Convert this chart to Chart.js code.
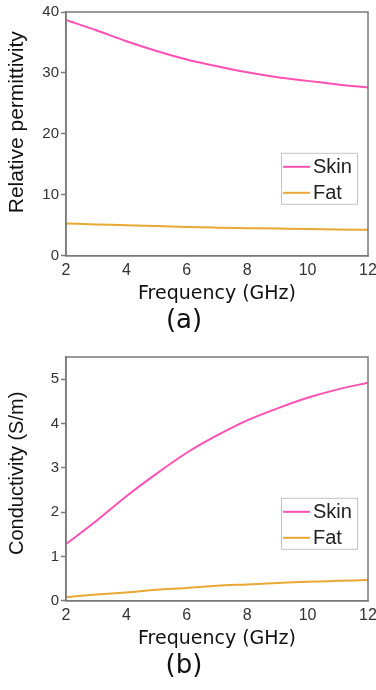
<!DOCTYPE html>
<html>
<head>
<meta charset="utf-8">
<script src="https://cdn.jsdelivr.net/npm/chart.js@4.4.1/dist/chart.umd.min.js"></script>
<style>
    body { margin: 0; background: #fff; }
    canvas { display: block; }
</style>
</head>
<body>
<canvas id="chartA" width="376" height="345"></canvas>
<canvas id="chartB" width="376" height="345"></canvas>
<script>
'use strict'

const freqs = [2, 3, 4, 5, 6, 7, 8, 9, 10, 11, 12]
const xTicks = [2, 4, 6, 8, 10, 12]

const skinPerm = [38.7, 37.0, 35.2, 33.6, 32.2, 31.1, 30.1, 29.3, 28.7, 28.1, 27.6]
const fatPerm = [5.3, 5.15, 5.03, 4.87, 4.72, 4.62, 4.54, 4.46, 4.38, 4.32, 4.27]
const permTicks = [0, 10, 20, 30, 40]

const skinCond = [1.28, 1.8, 2.36, 2.87, 3.34, 3.73, 4.07, 4.34, 4.58, 4.77, 4.92]
const fatCond = [0.08, 0.14, 0.19, 0.25, 0.29, 0.34, 0.37, 0.4, 0.43, 0.45, 0.47]
const condTicks = [0, 1, 2, 3, 4, 5]

const SKIN_COLOR = '#ff50b4'
const FAT_COLOR = '#eaa835'
const AXIS_COLOR = '#7a7a7a'

// frame round the plot area + legend box inside it
const framePlugin = {
    id: 'frame',
    afterDatasetsDraw(chart) {
        const { ctx, chartArea } = chart
        ctx.save()
        ctx.strokeStyle = AXIS_COLOR
        ctx.lineWidth = 1.5
        ctx.strokeRect(chartArea.left, chartArea.top, chartArea.right - chartArea.left, chartArea.bottom - chartArea.top)

        const boxW = 76
        const boxH = 51
        const bx = chartArea.right - 11 - boxW
        const by = chartArea.bottom - 52 - boxH
        ctx.fillStyle = '#fff'
        ctx.fillRect(bx, by, boxW, boxH)
        ctx.strokeStyle = '#c4c4c4'
        ctx.lineWidth = 1
        ctx.strokeRect(bx + 0.5, by + 0.5, boxW, boxH)

        ctx.font = '20px "Liberation Sans", Arial, sans-serif'
        ctx.textBaseline = 'middle'
        chart.data.datasets.forEach((ds, i) => {
            const y = by + 14 + i * 26
            ctx.strokeStyle = ds.borderColor
            ctx.lineWidth = 2
            ctx.beginPath()
            ctx.moveTo(bx + 2, y)
            ctx.lineTo(bx + 29, y)
            ctx.stroke()
            ctx.fillStyle = '#222'
            ctx.fillText(ds.label, bx + 32, y + 1)
        })
        ctx.restore()
    }
}

function makeChart(id, skin, fat, yTicks, yMax, yTitle, yTitleSize, caption) {
    const ctx = document.getElementById(id)
    return new Chart(ctx, {
        type: 'line',
        data: {
            datasets: [{
                label: 'Skin',
                data: freqs.map((f, i) => ({ x: f, y: skin[i] })),
                borderColor: SKIN_COLOR,
                borderWidth: 2,
                pointRadius: 0,
                cubicInterpolationMode: 'monotone'
            }, {
                label: 'Fat',
                data: freqs.map((f, i) => ({ x: f, y: fat[i] })),
                borderColor: FAT_COLOR,
                borderWidth: 2,
                pointRadius: 0,
                cubicInterpolationMode: 'monotone'
            }]
        },
        options: {
            responsive: false,
            animation: false,
            layout: { padding: { top: 12, right: 8, left: 0, bottom: 0 } },
            plugins: {
                legend: { display: false },
                tooltip: { enabled: false },
                title: {
                    display: true,
                    position: 'bottom',
                    text: caption,
                    color: '#111',
                    font: { family: '"DejaVu Sans", sans-serif', size: 26, weight: 'normal' },
                    padding: { top: 0, bottom: 8 }
                }
            },
            scales: {
                x: {
                    type: 'linear',
                    min: 2,
                    max: 12,
                    afterBuildTicks: scale => { scale.ticks = xTicks.map(v => ({ value: v })) },
                    afterFit: scale => { scale.height = 50 },
                    grid: { display: false },
                    border: { color: AXIS_COLOR, width: 1.5 },
                    ticks: {
                        color: '#333',
                        padding: -3,
                        maxRotation: 0,
                        font: { family: '"Liberation Sans", Arial, sans-serif', size: 16 }
                    },
                    title: {
                        display: true,
                        text: 'Frequency (GHz)',
                        color: '#111',
                        font: { family: '"DejaVu Sans", sans-serif', size: 19 },
                        padding: 0
                    }
                },
                y: {
                    min: 0,
                    max: yMax,
                    afterBuildTicks: scale => { scale.ticks = yTicks.map(v => ({ value: v })) },
                    afterFit: scale => { scale.width = 66 },
                    grid: { drawOnChartArea: false, color: AXIS_COLOR, tickLength: 5, tickWidth: 1.5 },
                    border: { color: AXIS_COLOR, width: 1.5 },
                    ticks: {
                        color: '#333',
                        padding: 2,
                        font: { family: '"Liberation Sans", Arial, sans-serif', size: 15 }
                    },
                    title: {
                        display: true,
                        text: yTitle,
                        color: '#111',
                        font: { family: '"Liberation Sans", Arial, sans-serif', size: yTitleSize },
                        padding: { top: 5, bottom: 0 }
                    }
                }
            }
        },
        plugins: [framePlugin]
    })
}

// leading spaces nudge the rotated title upwards a little, as in the figure
makeChart('chartA', skinPerm, fatPerm, permTicks, 40, '    Relative permittivity', 21, '(a)')
makeChart('chartB', skinCond, fatCond, condTicks, 5.5, '  Conductivity (S/m)', 20, '(b)')
</script>
</body>
</html>
